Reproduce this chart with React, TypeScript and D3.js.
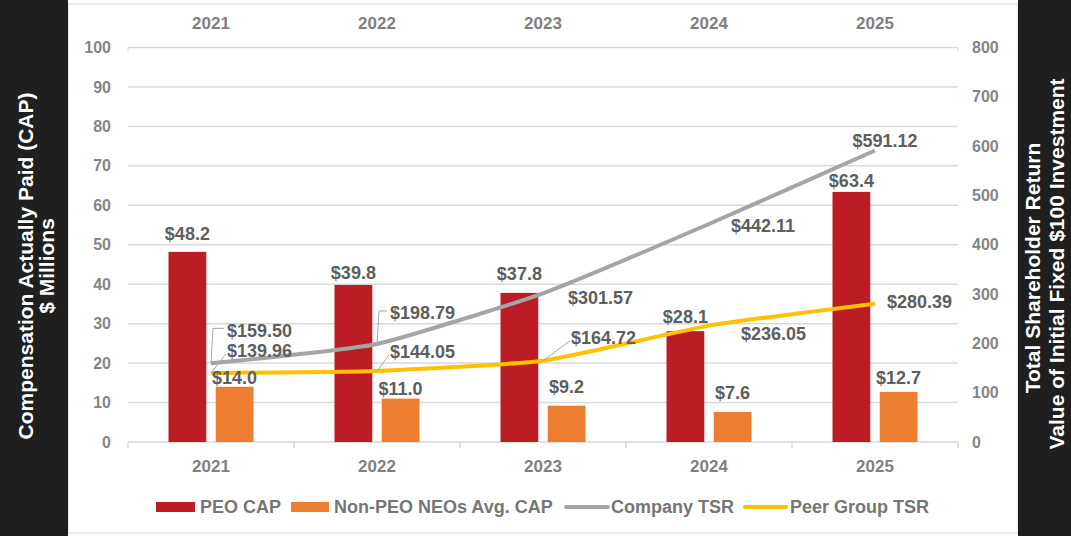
import React from "react";
import * as d3 from "d3";

// values
const years = ["2021", "2022", "2023", "2024", "2025"];
const peoCap = [48.2, 39.8, 37.8, 28.1, 63.4];
const neoCap = [14.0, 11.0, 9.2, 7.6, 12.7];
const companyTsr = [159.5, 198.79, 301.57, 442.11, 591.12];
const peerTsr = [139.96, 144.05, 164.72, 236.05, 280.39];
const capTicks = [0, 10, 20, 30, 40, 50, 60, 70, 80, 90, 100];
const tsrTicks = [0, 100, 200, 300, 400, 500, 600, 700, 800];

// label placement (how far above the bar top the label centre sits)
const peoLift = [18, 12, 19, 14, 11];
const neoLift = [9, 10, 19, 19, 14];
// TSR labels: [dx, dy] of label left/centre from the point
const companyLabelPos = [[16, -33], [13, -31], [25, 4], [22, 2], [10, -10]];
const peerLabelPos = [[16, -22], [13, -19], [28, -23], [32, 8], [12, -2]];
const companyLeader = [true, true, false, false, false];
const peerLeader = [true, true, true, false, false];

const W = 1071;
const H = 536;
const plot = { left: 128, right: 958, top: 47.5, bottom: 442 };

const C = {
  band: "#1f1f1f",
  peo: "#BC1C24",
  neo: "#ED7D31",
  company: "#A5A5A5",
  peer: "#FFC000",
  grid: "#D9D9D9",
  tick: "#858585",
  label: "#5E5E5E",
  legend: "#767676",
};
const FONT = "'Liberation Sans', Arial, sans-serif";

export default function App() {
  const x = d3.scaleBand().domain(years).range([plot.left, plot.right]);
  const xs = d3.scaleBand().domain(["peo", "neo"]).range([-42.5, 42.5]).paddingInner(0.2);
  const yL = d3.scaleLinear().domain([0, 100]).range([plot.bottom, plot.top]);
  const yR = d3.scaleLinear().domain([0, 800]).range([plot.bottom, plot.top]);
  const cx = (y: string) => x(y)! + x.bandwidth() / 2;

  const line = d3
    .line<number>()
    .x((_, i) => cx(years[i]))
    .y((d) => yR(d))
    .curve(d3.curveCardinal.tension(0.55));

  const fmt2 = (v: number) => `$${v.toFixed(2)}`;
  const fmt1 = (v: number) => `$${v.toFixed(1)}`;

  const tsrLabel = (vals: number[], pos: number[][], leader: boolean[], kind: string) =>
    vals.map((v, i) => {
      const px = cx(years[i]);
      const py = yR(v);
      const [dx, dy] = pos[i];
      const lx = px + dx;
      const ly = py + dy;
      const centred = i === vals.length - 1 && kind === "company";
      let lead = null;
      if (leader[i]) {
        const d =
          kind === "company"
            ? `M${px},${py} L${px + 2},${ly - 2} L${lx - 3},${ly - 2}`
            : `M${px},${py} L${lx - 1},${ly + 3}`;
        lead = <path d={d} fill="none" stroke="#A6A6A6" strokeWidth={1} />;
      }
      return (
        <g key={kind + i}>
          {lead}
          <text
            x={lx}
            y={ly}
            dy="0.35em"
            textAnchor={centred ? "middle" : "start"}
            fontSize={18}
            fontWeight="bold"
            fill={C.label}
          >
            {fmt2(v)}
          </text>
        </g>
      );
    });

  return (
    <svg
      width={W}
      height={H}
      style={{ position: "absolute", left: 0, top: 0, background: "#fff" }}
      fontFamily={FONT}
    >
      {/* frame */}
      <rect x={68} y={4} width={950} height={529} fill="#fff" stroke="#E3E3E3" strokeWidth={1.5} />

      {/* black side bands */}
      <rect x={0} y={0} width={68} height={H} fill={C.band} />
      <rect x={1018} y={0} width={53} height={H} fill={C.band} />
      <g fill="#fff" fontWeight="bold">
        <text transform="translate(26,266) rotate(-90)" textAnchor="middle" dy="0.35em" fontSize={21}>
          Compensation Actually Paid (CAP)
        </text>
        <text transform="translate(47,266) rotate(-90)" textAnchor="middle" dy="0.35em" fontSize={21}>
          $ Millions
        </text>
        <text transform="translate(1033,268) rotate(-90)" textAnchor="middle" dy="0.35em" fontSize={21}>
          Total Shareholder Return
        </text>
        <text transform="translate(1057,264) rotate(-90)" textAnchor="middle" dy="0.35em" fontSize={21}>
          Value of Initial Fixed $100 Investment
        </text>
      </g>

      {/* gridlines */}
      {capTicks.map((t) => (
        <line key={t} x1={plot.left} x2={plot.right} y1={yL(t)} y2={yL(t)} stroke={C.grid} strokeWidth={1.5} />
      ))}
      <line x1={plot.left} x2={plot.left} y1={plot.top} y2={plot.top + 4} stroke={C.grid} />
      <line x1={plot.right} x2={plot.right} y1={plot.top} y2={plot.top + 4} stroke={C.grid} />

      {/* bottom axis ticks */}
      {d3.range(years.length + 1).map((i) => {
        const tx = plot.left + i * x.step();
        return <line key={i} x1={tx} x2={tx} y1={plot.bottom} y2={plot.bottom + 6} stroke={C.grid} strokeWidth={1.5} />;
      })}

      {/* tick labels */}
      <g fontSize={16} fontWeight="bold" fill={C.tick}>
        {capTicks.map((t) => (
          <text key={t} x={111} y={yL(t)} dy="0.35em" textAnchor="end">
            {t}
          </text>
        ))}
        {tsrTicks.map((t) => (
          <text key={t} x={972} y={yR(t)} dy="0.35em" textAnchor="start">
            {t}
          </text>
        ))}
      </g>
      <g fontSize={17} fontWeight="bold" fill="#7F7F7F" textAnchor="middle">
        {years.map((yr) => (
          <text key={"t" + yr} x={cx(yr)} y={23} dy="0.35em">
            {yr}
          </text>
        ))}
        {years.map((yr) => (
          <text key={"b" + yr} x={cx(yr)} y={466} dy="0.35em">
            {yr}
          </text>
        ))}
      </g>

      {/* bars */}
      {years.map((yr, i) => (
        <g key={"bar" + yr}>
          <rect
            x={cx(yr) + xs("peo")!}
            y={yL(peoCap[i])}
            width={xs.bandwidth()}
            height={yL(0) - yL(peoCap[i])}
            fill={C.peo}
          />
          <rect
            x={cx(yr) + xs("neo")!}
            y={yL(neoCap[i])}
            width={xs.bandwidth()}
            height={yL(0) - yL(neoCap[i])}
            fill={C.neo}
          />
        </g>
      ))}

      {/* TSR lines */}
      <path d={line(companyTsr)!} fill="none" stroke={C.company} strokeWidth={4} />
      <path d={line(peerTsr)!} fill="none" stroke={C.peer} strokeWidth={4} />

      {/* bar labels */}
      <g fontSize={18} fontWeight="bold" fill={C.label} textAnchor="middle">
        {years.map((yr, i) => (
          <text
            key={"pl" + yr}
            x={cx(yr) + xs("peo")! + xs.bandwidth() / 2}
            y={yL(peoCap[i]) - peoLift[i]}
            dy="0.35em"
          >
            {fmt1(peoCap[i])}
          </text>
        ))}
        {years.map((yr, i) => (
          <text
            key={"nl" + yr}
            x={cx(yr) + xs("neo")! + xs.bandwidth() / 2}
            y={yL(neoCap[i]) - neoLift[i]}
            dy="0.35em"
          >
            {fmt1(neoCap[i])}
          </text>
        ))}
      </g>

      {/* TSR labels */}
      {tsrLabel(companyTsr, companyLabelPos, companyLeader, "company")}
      {tsrLabel(peerTsr, peerLabelPos, peerLeader, "peer")}

      {/* legend */}
      <g fontSize={18} fontWeight="bold" fill={C.legend}>
        <rect x={156} y={502} width={39} height={10} fill={C.peo} />
        <text x={200} y={507} dy="0.35em">PEO CAP</text>
        <rect x={291} y={502} width={38} height={10} fill={C.neo} />
        <text x={334} y={507} dy="0.35em">Non-PEO NEOs Avg. CAP</text>
        <line x1={566} x2={608} y1={507} y2={507} stroke={C.company} strokeWidth={4} strokeLinecap="round" />
        <text x={611} y={507} dy="0.35em">Company TSR</text>
        <line x1={745} x2={786} y1={507} y2={507} stroke={C.peer} strokeWidth={4} strokeLinecap="round" />
        <text x={790} y={507} dy="0.35em">Peer Group TSR</text>
      </g>
    </svg>
  );
}
